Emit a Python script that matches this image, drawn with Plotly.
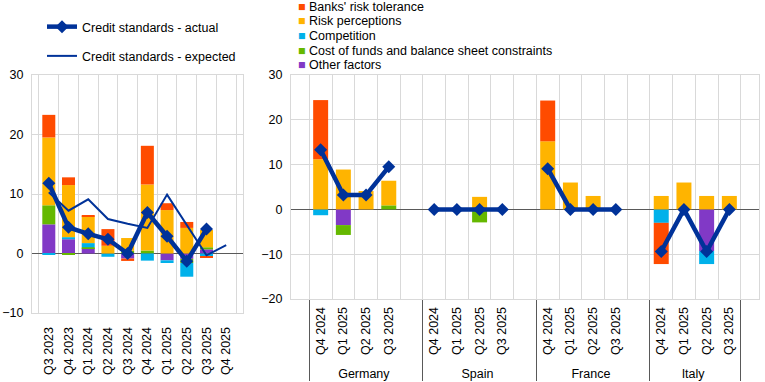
import plotly.graph_objects as go

# ---------------- Data ----------------
# Left panel: euro area
ea_quarters = ["Q3 2023", "Q4 2023", "Q1 2024", "Q2 2024", "Q3 2024",
               "Q4 2024", "Q1 2025", "Q2 2025", "Q3 2025", "Q4 2025"]
ea_risktol = [3.8, 1.3, 0.2, 2.8, -0.4, 6.5, 1.15, 1.0, -0.25, None]
ea_riskperc = [11.4, 8.75, 4.5, 1.3, 2.15, 11.1, 7.3, 4.3, 2.9, None]
ea_comp = [-0.25, 0.35, 0.7, -0.55, 0.0, -1.2, -0.45, -2.3, -0.5, None]
ea_cost = [3.2, -0.25, 0.15, 0.0, 0.45, 0.5, 0.0, -0.7, 0.35, None]
ea_other = [4.9, 2.4, 0.9, 0.0, -0.85, 0.0, -1.15, -0.9, 0.7, None]
ea_actual = [11.8, 4.4, 3.3, 2.4, 0.0, 6.9, 2.9, -1.3, 4.1, None]
ea_expected = [10.3, 7.2, 9.1, 5.8, 5.0, 4.3, 9.9, 4.9, -0.3, 1.4]

# Right panel: countries (4 quarters each: Germany, Spain, France, Italy)
countries = ["Germany", "Spain", "France", "Italy"]
cty_quarters = ["Q4 2024", "Q1 2025", "Q2 2025", "Q3 2025"]
cty_risktol = [13.2, 0, 0, 0,   0, 0, 0, 0,    9.1, 0, 0, 0,   -9.2, 0, 0, 0]
cty_riskperc = [11.2, 8.9, 4.1, 5.5,  0, 0, 2.8, 0,  15.2, 6.0, 3.0, 0,  3.0, 6.0, 3.0, 3.0]
cty_comp = [-1.3, 0, 0, 0,   0, 0, 0, 0,    0, 0, 0, 0,   -3.0, 0, -2.9, 0]
cty_cost = [0, -2.2, 0, 0.9,  0, 0, -2.9, 0,  0, 0, 0, 0,   0, 0, 0, 0]
cty_other = [0, -3.5, 0, 0,   0, 0, 0, 0,    0, 0, 0, 0,   0, 0, -9.3, 0]
cty_actual = [13.3, 3.2, 3.2, 9.5,  0, 0, 0, 0,  9.1, 0, 0, 0,  -9.4, 0, -9.4, 0]

factor_names = ["Banks' risk tolerance", "Risk perceptions", "Competition",
                "Cost of funds and balance sheet constraints", "Other factors"]
factor_colors = ["#FF4B00", "#FFB400", "#00B1EA", "#65B800", "#8139C6"]
line_color = "#003299"

# ---------------- Geometry helpers ----------------
W, H = 765, 382


def fx(px):
    return px / W


def fy(py):
    return 1 - py / H


n_q = len(cty_quarters)
x_outer, x_inner = [], []
for i, c in enumerate(countries):
    x_outer += [c] * n_q
    x_inner += cty_quarters
    if i < len(countries) - 1:
        x_outer.append(c)
        x_inner.append(" ")


def with_gaps(vals):
    out = []
    for i in range(len(countries)):
        out += vals[i * n_q:(i + 1) * n_q]
        if i < len(countries) - 1:
            out.append(None)
    return out


fig = go.Figure()

ea_series = [ea_risktol, ea_riskperc, ea_comp, ea_cost, ea_other]
cty_series = [cty_risktol, cty_riskperc, cty_comp, cty_cost, cty_other]

# stacking order bottom-up: other, cost, competition, risk perceptions, risk tolerance
for idx in [4, 3, 2, 1, 0]:
    fig.add_trace(go.Bar(
        x=ea_quarters, y=ea_series[idx], name=factor_names[idx],
        marker=dict(color=factor_colors[idx], line=dict(width=0)),
        showlegend=False, xaxis="x", yaxis="y"))
for idx in [4, 3, 2, 1, 0]:
    fig.add_trace(go.Bar(
        x=[x_outer, x_inner], y=with_gaps(cty_series[idx]), name=factor_names[idx],
        marker=dict(color=factor_colors[idx], line=dict(width=0)),
        showlegend=False, xaxis="x2", yaxis="y2"))

fig.add_trace(go.Scatter(
    x=ea_quarters, y=ea_actual, name="Credit standards - actual",
    mode="lines+markers", line=dict(color=line_color, width=4.5),
    marker=dict(symbol="diamond", size=10, color=line_color),
    legendgroup="a", xaxis="x", yaxis="y"))
fig.add_trace(go.Scatter(
    x=ea_quarters, y=ea_expected, name="Credit standards - expected",
    mode="lines", line=dict(color=line_color, width=2),
    legendgroup="b", xaxis="x", yaxis="y"))
fig.add_trace(go.Scatter(
    x=[x_outer, x_inner], y=with_gaps(cty_actual), name="Credit standards - actual",
    mode="lines+markers", line=dict(color=line_color, width=4.5),
    marker=dict(symbol="diamond", size=10, color=line_color),
    connectgaps=False, showlegend=False, xaxis="x2", yaxis="y2"))

grid = "#d9d9d9"
font_family = "Arial, Liberation Sans, sans-serif"

fig.update_layout(
    width=W, height=H,
    margin=dict(l=0, r=0, t=0, b=0, autoexpand=False),
    paper_bgcolor="white", plot_bgcolor="white",
    barmode="relative", bargap=0.34,
    font=dict(family=font_family, size=12.5, color="#000000"),
    legend=dict(x=fx(42), y=fy(12), xanchor="left", yanchor="top",
                traceorder="grouped", tracegroupgap=10,
                bgcolor="rgba(0,0,0,0)", font=dict(size=12.5)),
    xaxis=dict(domain=[fx(32), fx(243)], type="category", tickson="boundaries",
               showgrid=True, gridcolor=grid, gridwidth=1, tickangle=-90, ticks="",
               ticklabelstandoff=8,
               showline=True, linecolor=grid, mirror=True, anchor="y", automargin=False),
    yaxis=dict(domain=[fy(313), fy(75)], range=[-10, 30], dtick=10,
               showgrid=True, gridcolor=grid, zeroline=True, zerolinecolor="#595959",
               zerolinewidth=1, ticks="", ticklabelstandoff=5,
               showline=True, linecolor=grid, mirror=True,
               anchor="x", automargin=False),
    xaxis2=dict(domain=[fx(291), fx(759)], type="multicategory", tickson="boundaries",
                showgrid=True, gridcolor=grid, gridwidth=1, tickangle=-90, ticks="",
                ticklabelstandoff=2,
                showdividers=True, dividercolor="#595959", dividerwidth=1,
                showline=True, linecolor=grid, mirror=True, anchor="y2", automargin=False),
    yaxis2=dict(domain=[fy(299), fy(75)], range=[-20, 30], dtick=10,
                showgrid=True, gridcolor=grid, zeroline=True, zerolinecolor="#595959",
                zerolinewidth=1, ticks="", ticklabelstandoff=5,
                showline=True, linecolor=grid, mirror=True,
                anchor="x2", automargin=False),
)

# Legend for the factors (compact, as in the original)
for i, (name, col) in enumerate(zip(factor_names, factor_colors)):
    fig.add_annotation(
        x=fx(296), y=fy(7 + 14.5 * i), xref="paper", yref="paper",
        xanchor="left", yanchor="middle", showarrow=False,
        text=f"<span style='color:{col}'>■</span> {name}",
        font=dict(family=font_family, size=12.5, color="#000000"))

# remove the browser's default page margin so the figure sits at the window origin
fig.write_html("out.html", config={"displayModeBar": False},
               post_script="document.body.style.margin='0px';")
